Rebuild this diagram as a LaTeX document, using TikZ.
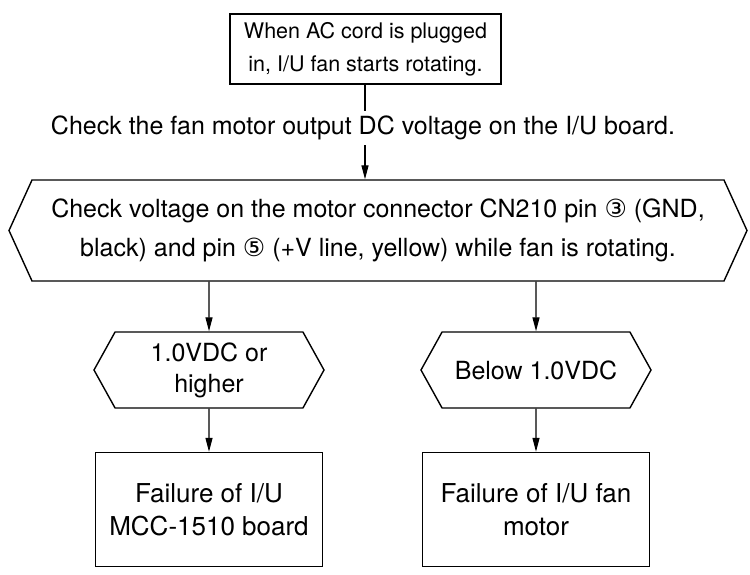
\documentclass[tikz,border=0pt]{standalone}
\usepackage{fontspec}
\setmainfont{TeX Gyre Heros}
\newfontfamily\circfont{DejaVu Sans}
\usetikzlibrary{arrows.meta, shapes.symbols, positioning}

\newcommand{\pinno}[1]{{\circfont\fontsize{25}{25}\selectfont #1}}

\begin{document}
\begin{tikzpicture}[
  x=1pt, y=-1pt,
  font=\fontsize{25}{33}\selectfont,
  startbox/.style={draw, line width=1.4pt, minimum width=271pt,
                   minimum height=70pt, align=center, inner sep=0pt,
                   font=\fontsize{21.5}{33}\selectfont},
  checkhex/.style={draw, line width=1.4pt, shape=signal,
                   signal to=west and east, signal pointer angle=131,
                   minimum width=738pt, minimum height=101pt,
                   align=center, font=\fontsize{25}{39}\selectfont},
  resulthex/.style={draw, line width=1.4pt, shape=signal,
                    signal to=west and east, signal pointer angle=122,
                    minimum width=230pt, minimum height=76pt,
                    align=center, font=\fontsize{25}{31}\selectfont},
  faultbox/.style={draw, line width=1.4pt, minimum width=227pt,
                   minimum height=114pt, align=center,
                   font=\fontsize{26}{33}\selectfont},
  flowarrow/.style={-{Triangle[length=14pt, width=7pt]}, line width=1.3pt},
  plainline/.style={line width=1.3pt},
]
\useasboundingbox (0,0) rectangle (750,574);

% start condition
\node[startbox] (start) at (365.5,49)
  {When AC cord is plugged\\in, I/U fan starts rotating.};

\node[inner sep=5pt] (note) at (363,128)
  {Check the fan motor output DC voltage on the I/U board.};

% main check
\node[checkhex] (check) at (378,230.5)
  {Check voltage on the motor connector CN210 pin \pinno{③} (GND,\\
   black) and pin \pinno{⑤} (+V line, yellow) while fan is rotating.};

% results
\node[resulthex] (high) at (209,370) {1.0VDC or\\higher};
\node[resulthex] (low) at (536,370) {Below 1.0VDC};

\node[faultbox] (board) at (209,509.5) {Failure of I/U\\MCC-1510 board};
\node[faultbox] (motor) at (536,509.5) {Failure of I/U fan\\motor};

% connectors
\coordinate (spine) at (365,0);
\draw[plainline] (start.south -| spine) -- (note.north -| spine);
\draw[flowarrow] (note.south -| spine) -- (check.north -| spine);

\draw[flowarrow] (check.south -| high) -- (high);
\draw[flowarrow] (check.south -| low) -- (low);
\draw[flowarrow] (high) -- (board);
\draw[flowarrow] (low) -- (motor);

\end{tikzpicture}
\end{document}
